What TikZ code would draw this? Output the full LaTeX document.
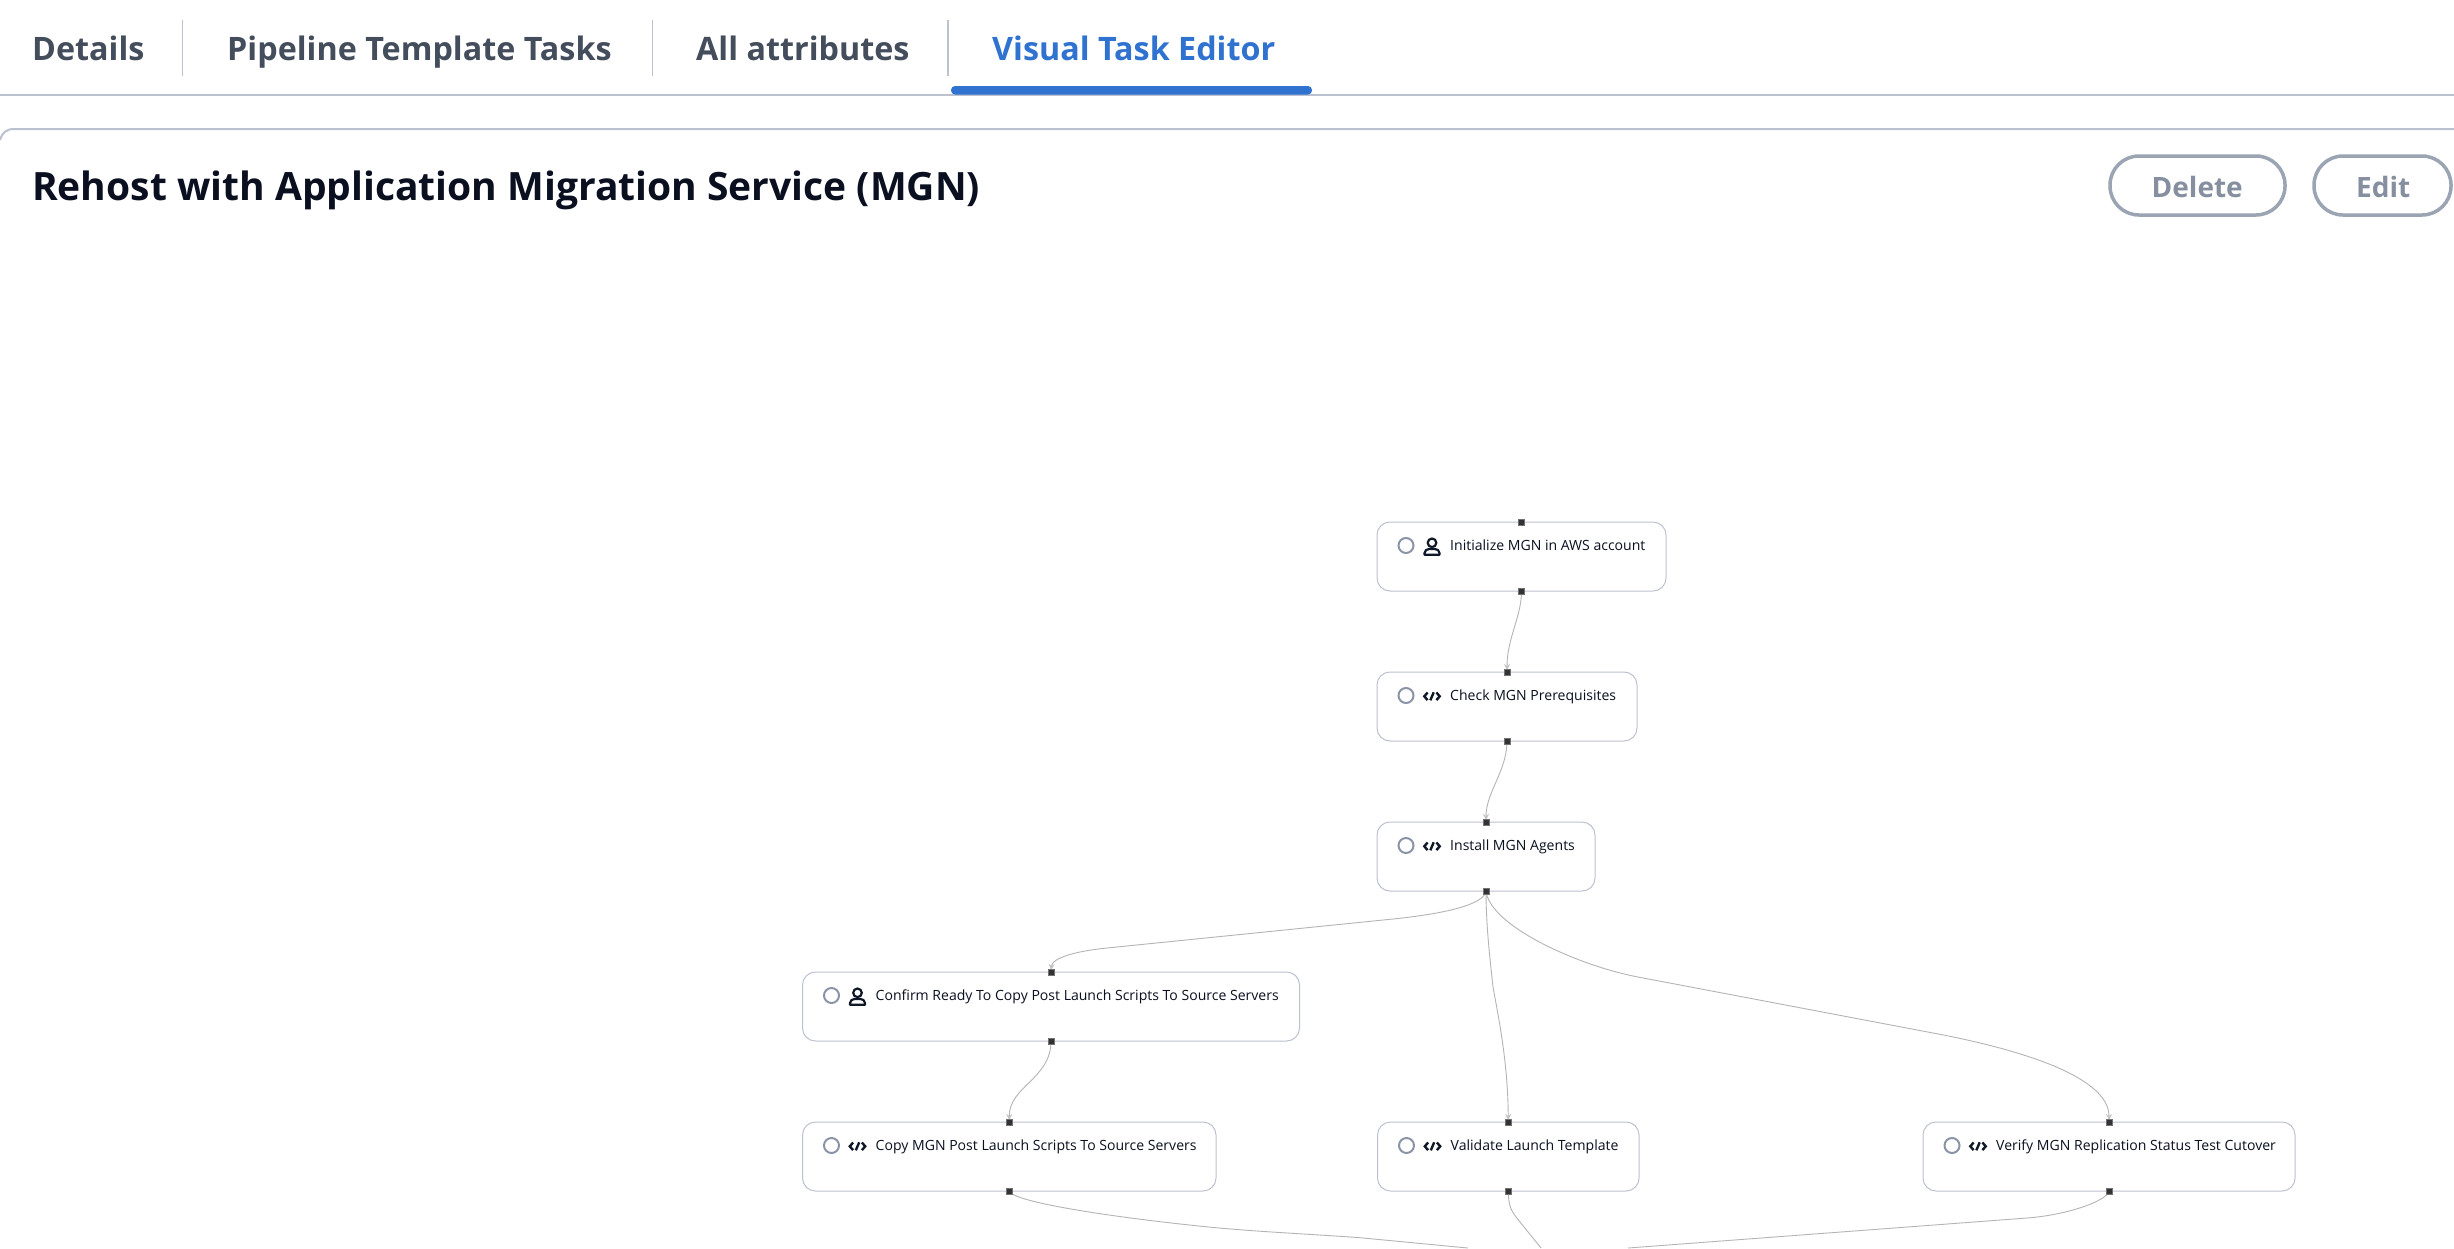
\documentclass[tikz,border=0pt]{standalone}
\usepackage{fontspec}
\setmainfont{Open Sans}
\usetikzlibrary{arrows.meta}
\definecolor{rule}{HTML}{BCC1CF}
\definecolor{tabtext}{HTML}{434D5C}
\definecolor{tabblue}{HTML}{2F72D0}
\definecolor{titletext}{HTML}{0A1020}
\definecolor{btnline}{HTML}{9AA4B3}
\definecolor{btntext}{HTML}{868FA0}
\definecolor{edgecol}{HTML}{B4B4B4}
\definecolor{iconcol}{HTML}{101828}
\definecolor{radiocol}{HTML}{8A94A6}
\tikzset{
  tablabel/.style={anchor=base west,inner sep=0pt,font=\fontsize{32.3}{40}\selectfont\bfseries,text=tabtext},
  taskbox/.style={draw=rule,line width=1pt,rounded corners=13pt,fill=white,anchor=north west,minimum height=69pt,inner sep=0pt,outer sep=0pt},
  tasklabel/.style={anchor=base west,inner sep=0pt,font=\fontsize{14.05}{18}\selectfont,text=titletext},
  radio/.style={circle,draw=radiocol,line width=2pt,minimum size=15pt,inner sep=0pt},
  handle/.style={rectangle,draw=black!55,fill=black!80,line width=0.8pt,minimum size=6pt,inner sep=0pt},
  btn/.style={draw=btnline,line width=3.5pt,rounded corners=29pt,fill=white,anchor=north west,minimum height=59pt,inner sep=0pt,outer sep=0pt},
  btnlabel/.style={anchor=base west,inner sep=0pt,font=\fontsize{28}{32}\selectfont\bfseries,text=btntext},
  edge/.style={draw=edgecol,line width=0.9pt},
  arrowedge/.style={edge,-{Stealth[length=6pt,width=6pt,color=edgecol!80]},shorten >=2pt},
  divider/.style={draw=rule,line width=1.5pt},
}
\newcommand{\personicon}{%
  \draw[iconcol,line width=2.2pt] (55,20.8) circle (4.3pt);
  \draw[iconcol,line width=2.2pt,line join=round] (47.5,32.8) -- (47.5,31) .. controls (47.5,28.5) and (50,27) .. (52,27) -- (58,27) .. controls (60,27) and (62.5,28.5) .. (62.5,31) -- (62.5,32.8) -- cycle;
}
\newcommand{\codeicon}{%
  \draw[iconcol,line width=2.4pt] (50.6,20.5) -- (47.3,24.3) -- (50.6,28.1);
  \draw[iconcol,line width=2.4pt] (53.3,28.3) -- (56.7,20.3);
  \draw[iconcol,line width=2.4pt] (59.4,20.5) -- (62.7,24.3) -- (59.4,28.1);
}
\newcommand{\taskcard}[6]{%
  \begin{scope}[shift={(#2,#3)}]
    \node[taskbox,minimum width=#4pt] (#1) at (0,0) {};
    \node[radio] (#1r) at (29,23.5) {};
    #5
    \node[tasklabel] (#1l) at (73,28.8) {#6};
  \end{scope}
}
\begin{document}
\begin{tikzpicture}[x=1pt,y=-1pt]
\useasboundingbox[fill=white] (0,0) rectangle (2454,1248);
% tabs
\node[tablabel] (t1) at (32,60) {Details};
\node[tablabel] (t2) at (227,60) {Pipeline Template Tasks};
\node[tablabel] (t3) at (696,60) {All attributes};
\node[tablabel,text=tabblue] (t4) at (992,60) {Visual Task Editor};
\draw[divider] (182.5,20) -- (182.5,76);
\draw[divider] (652.6,20) -- (652.6,76);
\draw[divider] (948,20) -- (948,76);
\draw[rule,line width=2pt] (0,95) -- (2454,95);
\fill[tabblue,rounded corners=4pt] (951,86) rectangle (1312,94.5);
\draw[rule,line width=2pt] (0,140) .. controls (2,133) and (6,129) .. (14,129) -- (2454,129);
% title
\node[anchor=base west,inner sep=0pt,font=\fontsize{39}{46}\selectfont\bfseries,text=titletext] (title) at (32,200) {Rehost with Application Migration Service (MGN)};
% buttons
\node[btn,minimum width=175pt] (del) at (2110,156) {};
\node[btn,minimum width=137pt] (edt) at (2314,156) {};
\node[btnlabel] (dell) at (2151.5,197) {Delete};
\node[btnlabel] (edtl) at (2356,197) {Edit};
% tasks
\taskcard{n1}{1377}{522}{289}{\personicon}{Initialize MGN in AWS account}
\taskcard{n2}{1377}{672}{260}{\codeicon}{Check MGN Prerequisites}
\taskcard{n3}{1377}{822}{218}{\codeicon}{Install MGN Agents}
\taskcard{n4}{802.5}{972}{497}{\personicon}{Confirm Ready To Copy Post Launch Scripts To Source Servers}
\taskcard{n5}{802.5}{1122}{413.5}{\codeicon}{Copy MGN Post Launch Scripts To Source Servers}
\taskcard{n6}{1377.5}{1122}{261.5}{\codeicon}{Validate Launch Template}
\taskcard{n7}{1923}{1122}{372}{\codeicon}{Verify MGN Replication Status Test Cutover}
% connectors
\draw[arrowedge] (n1.south) .. controls +(0,26) and +(0,-34) .. (n2.north);
\draw[arrowedge] (n2.south) .. controls +(0,30) and +(0,-30) .. (n3.north);
\draw[arrowedge] (n3.south) .. controls +(-2,14) and (1443,913.8) .. (1393,919) -- (1107,948) .. controls (1075,951.2) and (1052,958) .. (n4.north);
\draw[arrowedge] (n3.south) .. controls +(0,34) and (1490,960) .. (1493,987) .. controls (1497,1010) and (1508,1060) .. (n6.north);
\draw[arrowedge] (n3.south) .. controls +(4,35) and (1578,965.6) .. (1638,977) -- (1933,1033) .. controls (2013,1048) and (2109,1075) .. (n7.north);
\draw[arrowedge] (n4.south) .. controls +(0,38) and +(0,-36) .. (n5.north);
\coordinate (offa) at (1468,1248);
\coordinate (offb) at (1541,1248);
\coordinate (offc) at (1628,1248);
\draw[edge] (n5.south) .. controls +(2,10) and (1100,1216) .. (1208.6,1227) .. controls (1260,1232) and (1310,1234) .. (1360,1237.7) -- (offa);
\draw[edge] (n6.south) .. controls +(0,18) and (1513,1213) .. (1520,1222) -- (offb);
\draw[edge] (n7.south) .. controls +(-2,10) and (2067,1215) .. (2027,1218) -- (offc);
% connection handles
\foreach \n in {n1,n2,n3,n4,n5,n6,n7}{
  \node[handle] (\n top) at (\n.north) {};
  \node[handle] (\n bot) at (\n.south) {};
}
\end{tikzpicture}
\end{document}
